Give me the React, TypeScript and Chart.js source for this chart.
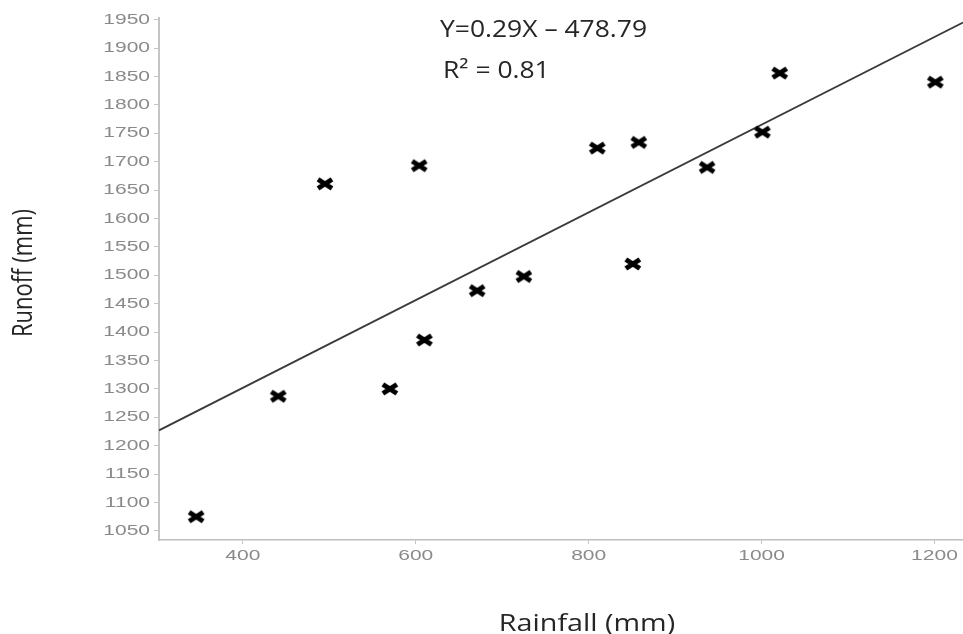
import { useEffect, useRef } from 'react';
import { Chart, registerables } from 'chart.js';

Chart.register(...registerables);

const rainfall = [346, 441, 495, 570, 604, 610, 671, 725, 810, 851, 858, 937, 1001, 1021, 1201];
const runoff = [1075, 1287, 1661, 1300, 1693, 1386, 1473, 1498, 1724, 1520, 1734, 1690, 1752, 1856, 1840];
const trendX = [303, 1233];
const trendY = [1227, 1945];
const xTickValues = [400, 600, 800, 1000, 1200];
const yTickValues = [1050, 1100, 1150, 1200, 1250, 1300, 1350, 1400, 1450, 1500, 1550, 1600, 1650, 1700, 1750, 1800, 1850, 1900, 1950];
const xTitle = 'Rainfall (mm)';
const yTitle = 'Runoff (mm)';
const equationText = 'Y=0.29X \u2013 478.79';
const r2Text = 'R\u00B2 = 0.81';

function makeMarker(): HTMLCanvasElement {
  const c = document.createElement('canvas');
  c.width = 22;
  c.height = 16;
  const ctx = c.getContext('2d')!;
  ctx.strokeStyle = '#000';
  ctx.lineWidth = 5;
  ctx.beginPath();
  ctx.moveTo(4, 3.5);
  ctx.lineTo(18, 12.5);
  ctx.moveTo(4, 12.5);
  ctx.lineTo(18, 3.5);
  ctx.stroke();
  return c;
}

function stretchedText(ctx: CanvasRenderingContext2D, text: string, x: number, y: number, sx: number, align: 'left' | 'center' | 'right') {
  ctx.save();
  ctx.translate(x, y);
  ctx.scale(sx, 1);
  ctx.textAlign = align;
  ctx.fillText(text, 0, 0);
  ctx.restore();
}

const textPlugin = {
  id: 'textPlugin',
  afterDraw(chart: any) {
    const ctx: CanvasRenderingContext2D = chart.ctx;
    const xs = chart.scales.x;
    const ys = chart.scales.y;
    ctx.save();
    ctx.fillStyle = '#8a8a8a';
    ctx.font = '15px "Liberation Sans"';
    ctx.textBaseline = 'middle';
    ys.ticks.forEach((t: any) => {
      stretchedText(ctx, String(t.value), 150, ys.getPixelForValue(t.value), 1.4, 'right');
    });
    ctx.textBaseline = 'top';
    xs.ticks.forEach((t: any) => {
      stretchedText(ctx, String(t.value), xs.getPixelForValue(t.value), 548, 1.4, 'center');
    });
    ctx.fillStyle = '#262626';
    ctx.textBaseline = 'alphabetic';
    ctx.font = '23px "Open Sans"';
    stretchedText(ctx, xTitle, 587, 631, 1.25, 'center');
    ctx.save();
    ctx.translate(32, 273);
    ctx.scale(1.2, 1);
    ctx.rotate(-Math.PI / 2);
    ctx.font = '22px "Open Sans"';
    ctx.textAlign = 'center';
    ctx.fillText(yTitle, 0, 0);
    ctx.restore();
    ctx.font = '23px "Open Sans"';
    stretchedText(ctx, equationText, 440, 37, 1.15, 'left');
    stretchedText(ctx, r2Text, 443, 78, 1.15, 'left');
    ctx.restore();
  },
};

export default function App() {
  const ref = useRef<HTMLCanvasElement>(null);
  useEffect(() => {
    document.body.style.margin = '0';
    const marker = makeMarker();
    const chart = new Chart(ref.current!, {
      type: 'scatter',
      data: {
        datasets: [
          {
            label: 'Observed',
            data: rainfall.map((x, i) => ({ x, y: runoff[i] })),
            pointStyle: marker as any,
            pointRadius: 8,
            backgroundColor: '#000',
            borderColor: '#000',
          },
          {
            label: 'Trend',
            type: 'line',
            data: trendX.map((x, i) => ({ x, y: trendY[i] })),
            borderColor: '#3a3a3a',
            borderWidth: 1.8,
            pointRadius: 0,
            fill: false,
          } as any,
        ],
      },
      options: {
        animation: false,
        responsive: true,
        maintainAspectRatio: false,
        layout: { autoPadding: false, padding: { left: 0, right: 0, top: 18, bottom: 0 } },
        plugins: { legend: { display: false }, tooltip: { enabled: false } },
        scales: {
          x: {
            type: 'linear',
            min: 303,
            max: 1233,
            afterBuildTicks: (s: any) => {
              s.ticks = xTickValues.map((v) => ({ value: v }));
            },
            afterFit: (s: any) => {
              s.height = 94;
              s.paddingLeft = 0;
              s.paddingRight = 0;
            },
            grid: { drawOnChartArea: false, drawTicks: true, tickLength: 4, color: '#c4c4c4' },
            border: { display: true, color: '#bdbdbd', width: 1.5 },
            ticks: { display: false, autoSkip: false, maxRotation: 0 },
          },
          y: {
            type: 'linear',
            min: 1034,
            max: 1953,
            afterBuildTicks: (s: any) => {
              s.ticks = yTickValues.map((v) => ({ value: v }));
            },
            afterFit: (s: any) => {
              s.width = 159;
              s.paddingTop = 0;
              s.paddingBottom = 0;
            },
            grid: { drawOnChartArea: false, drawTicks: true, tickLength: 5, color: '#c4c4c4' },
            border: { display: true, color: '#c4c4c4', width: 2 },
            ticks: { display: false, autoSkip: false },
          },
        },
      },
      plugins: [textPlugin],
    });
    return () => chart.destroy();
  }, []);
  return (
    <div style={{ position: 'fixed', left: 0, top: 0, width: 963, height: 634 }}>
      <canvas ref={ref} />
    </div>
  );
}
